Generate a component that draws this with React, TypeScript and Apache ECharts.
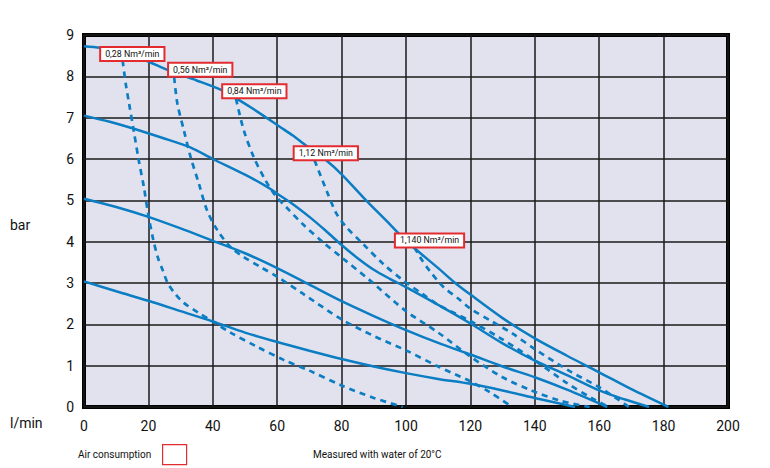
import React, { useEffect, useRef } from "react";
import * as echarts from "echarts";

// Pressure curves (solid), [l/min, bar]
const curve87: number[][] = [[0,8.73],[5,8.69],[10,8.61],[18,8.42],[27,8.12],[35,7.9],[43,7.66],[47,7.48],[52,7.24],[57,6.98],[61,6.77],[65,6.56],[68,6.38],[75,5.98],[80,5.63],[87,5.05],[95,4.42],[100,4.02],[104,3.75],[110,3.36],[115,3.02],[120,2.72],[130,2.15],[140,1.66],[150,1.24],[160,0.84],[170,0.43],[181.5,0]];
const curve7: number[][] = [[0,7.05],[8,6.9],[16,6.72],[24,6.52],[33,6.28],[40,6.0],[50,5.62],[57,5.32],[60,5.16],[65,4.9],[70,4.6],[75,4.27],[80,3.92],[85,3.6],[90,3.32],[95,3.1],[100,2.9],[110,2.47],[120,2.02],[130,1.54],[140,1.12],[150,0.77],[160,0.4],[168,0.18],[175.5,0]];
const curve5: number[][] = [[0,5.04],[10,4.84],[20,4.6],[30,4.32],[40,4.02],[50,3.72],[60,3.36],[70,2.96],[80,2.56],[90,2.2],[100,1.86],[110,1.55],[120,1.27],[130,0.98],[140,0.72],[150,0.42],[162.5,0]];
const curve3: number[][] = [[0,3.04],[10,2.8],[20,2.57],[30,2.32],[40,2.07],[50,1.8],[62,1.53],[70,1.36],[80,1.16],[90,0.98],[100,0.82],[110,0.68],[120,0.56],[130,0.4],[141,0.2],[152.5,0]];

// Air consumption curves (dashed)
const air028: number[][] = [[12,8.38],[13,7.8],[14,7.34],[15.5,6.66],[17,5.97],[18.6,5.32],[19.9,4.68],[21.5,4.05],[23,3.6],[24.5,3.3],[26,3.0],[28.5,2.72],[31,2.52],[35.7,2.27],[40,2.07],[45.5,1.8],[53.7,1.46],[62,1.14],[70,0.88],[80,0.52],[90,0.22],[99,0]];
const air056: number[][] = [[28,7.98],[29,7.34],[31,6.7],[33.1,6.05],[35.7,5.4],[38.2,4.76],[41.4,4.28],[45.5,3.87],[49.6,3.63],[55,3.38],[60,3.15],[68,2.74],[80,2.12],[90,1.72],[100,1.37],[110,0.98],[120,0.62],[126,0.36],[133,0]];
const air084: number[][] = [[47.2,7.46],[49.6,6.7],[52.7,6.05],[56.3,5.49],[59.4,5.12],[63,4.82],[68,4.42],[74,4.0],[80,3.62],[88.7,3.07],[100,2.32],[110,1.8],[120,1.22],[130,0.72],[139,0.4],[148,0.15],[157,0]];
const air112: number[][] = [[71.6,5.97],[75.3,5.24],[78.4,4.68],[81.4,4.36],[86.6,3.95],[92.8,3.47],[99,3.07],[105,2.74],[110,2.47],[120,2.08],[129,1.68],[139,1.18],[150,0.58],[158,0.2],[163,0]];
const air1140: number[][] = [[102.6,3.86],[105,3.55],[107.3,3.3],[111.4,2.92],[116.6,2.6],[120,2.38],[126.9,2.06],[133,1.78],[140,1.4],[151,0.86],[160,0.48],[169.3,0]];

// Curve labels: [x, y] and text
const labelTexts = ["0,28 Nm³/min", "0,56 Nm³/min", "0,84 Nm³/min", "1,12 Nm³/min", "1,140 Nm³/min"];
const labelPos: number[][] = [[15.0,8.54],[36.1,8.16],[52.9,7.64],[75.1,6.14],[107.3,4.03]];

const X_MIN = 0, X_MAX = 200, X_STEP = 20;
const Y_MIN = 0, Y_MAX = 9, Y_STEP = 1;

const BLUE = "#0b7dc3";
const RED = "#e42b2f";
const FONT = "Roboto, 'Noto Sans', sans-serif";

export default function App() {
  const ref = useRef<HTMLDivElement>(null);
  useEffect(() => {
    if (!ref.current) return;
    const chart = echarts.init(ref.current, undefined, { renderer: "svg" });
    const solid = (data: number[][]) => ({
      type: "line", data, smooth: 0.3, symbol: "none", z: 3,
      lineStyle: { color: BLUE, width: 2.5 },
    });
    const dashed = (data: number[][]) => ({
      type: "line", data, smooth: 0.3, symbol: "none", z: 3,
      lineStyle: { color: BLUE, width: 2.7, type: [6, 5] },
    });
    chart.setOption({
      animation: false,
      backgroundColor: "#ffffff",
      grid: {
        left: 84, right: 42, top: 35, bottom: 61,
        containLabel: false, outerBoundsMode: "none",
        show: true, backgroundColor: "#e2e2ee", borderColor: "#000", borderWidth: 4, z: 0,
      },
      xAxis: {
        type: "value", min: X_MIN, max: X_MAX, interval: X_STEP,
        axisLine: { show: false }, axisTick: { show: false },
        axisLabel: { fontSize: 14, color: "#111", margin: 12, fontFamily: FONT },
        splitLine: { show: true, lineStyle: { color: "#1a1a1a", width: 1.5 } },
      },
      yAxis: {
        type: "value", min: Y_MIN, max: Y_MAX, interval: Y_STEP,
        axisLine: { show: false }, axisTick: { show: false },
        axisLabel: { fontSize: 14, color: "#111", margin: 10, fontFamily: FONT },
        splitLine: { show: true, lineStyle: { color: "#1a1a1a", width: 1.5 } },
      },
      series: [
        solid(curve87), solid(curve7), solid(curve5), solid(curve3),
        dashed(air028), dashed(air056), dashed(air084), dashed(air112), dashed(air1140),
        {
          type: "scatter", z: 10, symbol: "rect", symbolSize: 1,
          itemStyle: { color: "rgba(0,0,0,0)" },
          data: labelPos.map((p, i) => ({ value: p, name: labelTexts[i] })),
          label: {
            show: true, position: "inside", formatter: "{b}", opacity: 1,
            fontSize: 8.8, color: "#111", fontFamily: FONT,
            backgroundColor: "#ffffff", borderColor: RED, borderWidth: 2,
            padding: [2, 4, 1, 4],
          },
        },
      ],
      graphic: [
        { type: "text", left: 10, top: 218, style: { text: "bar", fontSize: 14, fill: "#111", fontFamily: FONT } },
        { type: "text", left: 10, top: 416, style: { text: "l/min", fontSize: 14, fill: "#111", fontFamily: FONT } },
        { type: "text", left: 78, top: 449, style: { text: "Air consumption", fontSize: 10, fill: "#111", fontFamily: FONT } },
        { type: "rect", left: 162, top: 444, shape: { width: 24, height: 20 }, style: { fill: "#fff", stroke: RED, lineWidth: 1.2 } },
        { type: "text", left: 313, top: 449, style: { text: "Measured with water of 20°C", fontSize: 10, fill: "#111", fontFamily: FONT } },
      ],
    });
    return () => chart.dispose();
  }, []);
  return (
    <div
      ref={ref}
      style={{ position: "fixed", left: 0, top: 0, width: 770, height: 468 }}
    />
  );
}
